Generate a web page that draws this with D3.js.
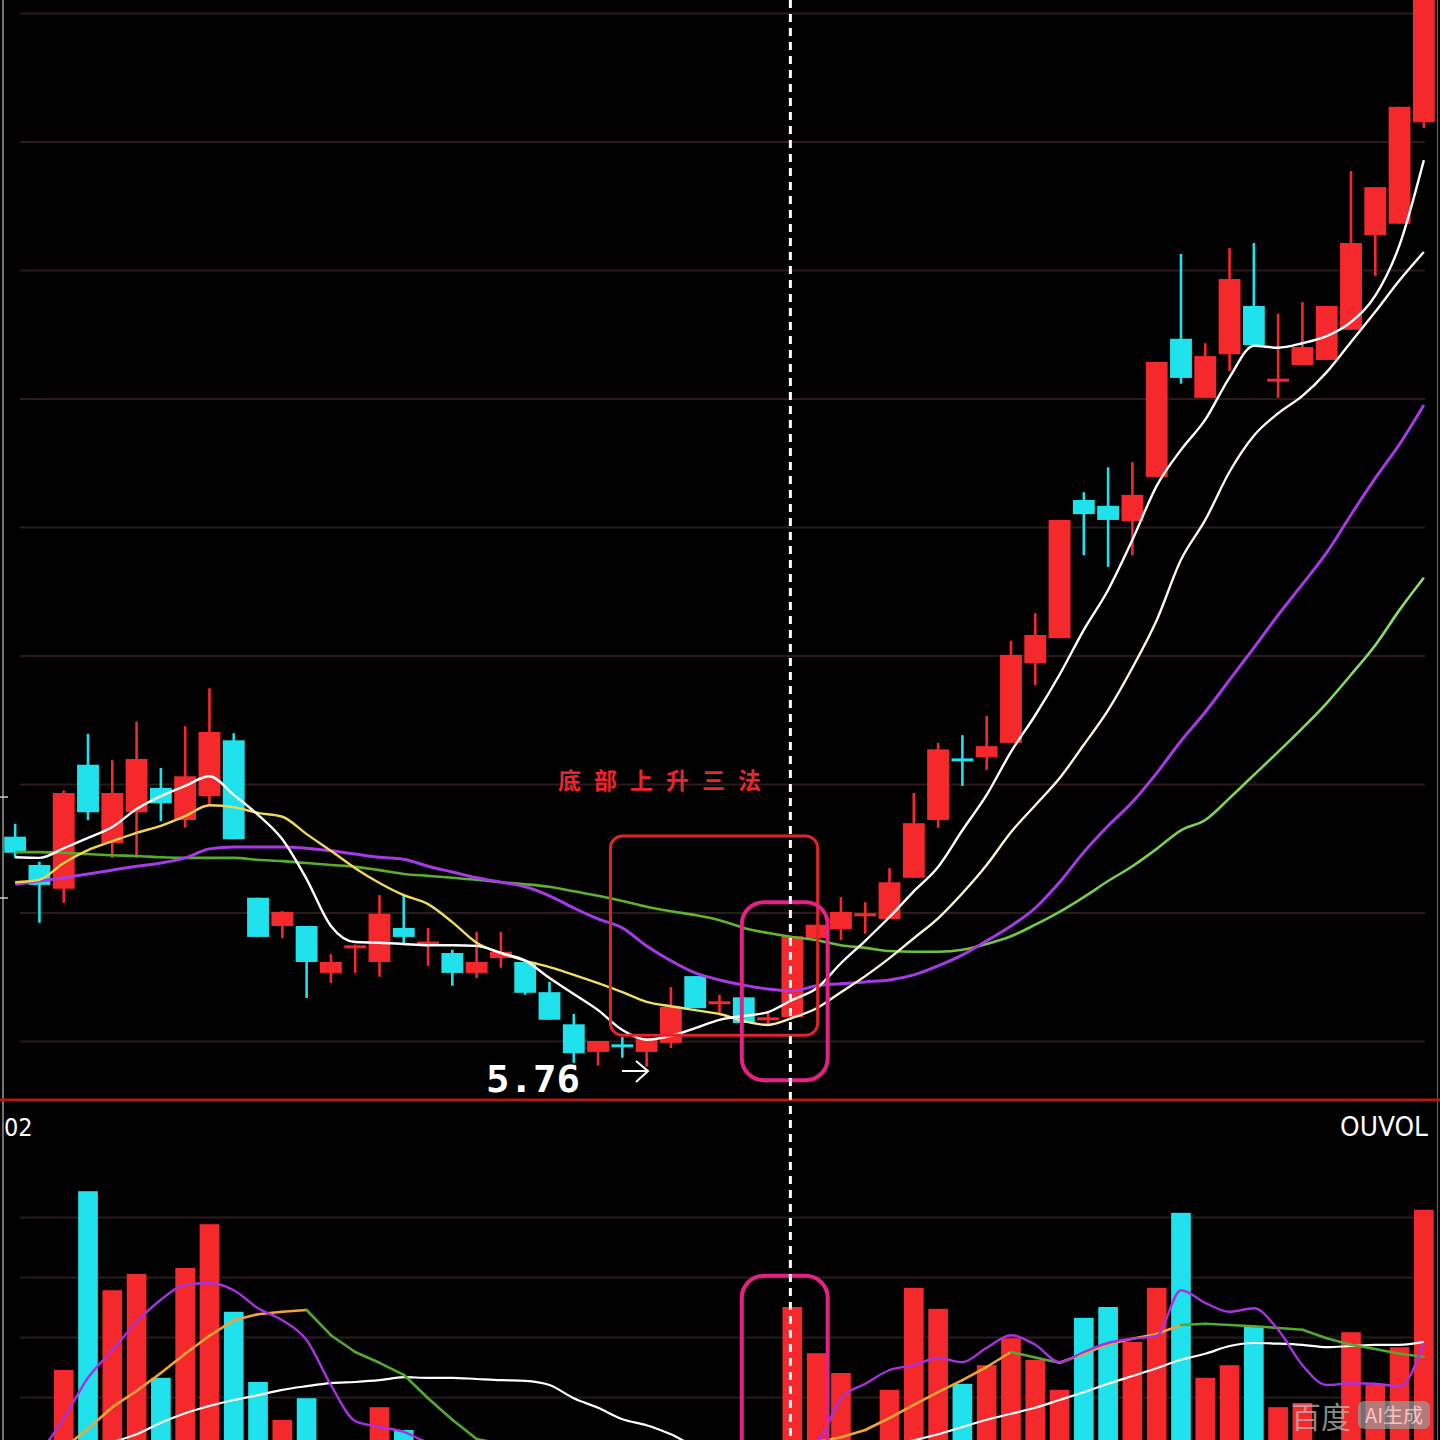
<!DOCTYPE html>
<html><head><meta charset="utf-8">
<script src="https://cdn.jsdelivr.net/npm/d3@7"></script>
<style>html,body{margin:0;padding:0;background:#000;}svg{display:block;}</style>
</head><body>
<svg id="c" width="1440" height="1440"></svg>
<script>
// ---------------- DATA ----------------
const days = d3.range(1, 60).map(d => "D" + d);
const open  = [6.118,6.074,6.037,6.230,6.108,6.156,6.194,6.144,6.181,6.268,6.023,5.979,5.979,5.906,5.945,5.923,5.976,5.951,5.937,5.906,5.929,5.923,5.876,5.826,5.783,5.794,5.783,5.797,5.901,5.858,5.868,5.833,5.837,5.960,5.974,5.995,5.990,6.054,6.144,6.239,6.242,6.264,6.388,6.427,6.642,6.633,6.609,6.678,6.893,6.801,6.869,6.944,6.827,6.852,6.860,6.907,7.054,7.072,7.230];
const close = [6.093,6.043,6.186,6.156,6.186,6.239,6.170,6.212,6.281,6.114,5.962,6.001,5.923,5.923,5.948,5.998,5.962,5.954,5.906,5.923,5.939,5.875,5.833,5.781,5.800,5.791,5.805,5.853,5.851,5.861,5.828,5.836,5.963,5.981,6.001,5.998,6.047,6.139,6.254,6.236,6.259,6.401,6.432,6.611,6.620,6.611,6.650,6.857,6.832,6.866,6.986,6.883,6.830,6.880,6.944,7.042,7.129,7.254,7.430];
const high  = [6.138,6.079,6.190,6.278,6.237,6.297,6.225,6.290,6.349,6.279,6.023,6.002,5.979,5.935,5.950,6.027,6.027,5.976,5.942,5.970,5.970,5.926,5.892,5.842,5.800,5.806,5.805,5.884,5.901,5.872,5.868,5.845,5.963,5.981,6.024,6.016,6.069,6.186,6.264,6.276,6.306,6.423,6.466,6.611,6.654,6.693,6.701,6.857,7.025,6.886,7.034,7.042,6.932,6.950,6.944,7.154,7.129,7.254,7.450];
const low   = [6.085,5.984,6.015,6.144,6.085,6.085,6.142,6.132,6.166,6.114,5.962,5.960,5.867,5.890,5.906,5.900,5.949,5.917,5.886,5.898,5.914,5.872,5.833,5.766,5.762,5.774,5.760,5.789,5.851,5.844,5.828,5.825,5.837,5.960,5.957,5.967,5.990,6.054,6.132,6.197,6.222,6.264,6.354,6.427,6.556,6.538,6.556,6.678,6.823,6.801,6.843,6.883,6.801,6.852,6.860,6.907,6.991,7.072,7.221];

const ma5  = [6.086,6.085,6.100,6.116,6.133,6.161,6.181,6.197,6.212,6.183,6.152,6.114,6.052,5.979,5.954,5.953,5.951,5.949,5.949,5.948,5.937,5.925,5.898,5.873,5.848,5.817,5.802,5.808,5.820,5.833,5.839,5.845,5.864,5.882,5.921,5.956,5.993,6.033,6.071,6.128,6.183,6.250,6.307,6.370,6.440,6.502,6.580,6.664,6.720,6.767,6.833,6.882,6.879,6.886,6.897,6.919,6.960,7.039,7.171];
const ma10 = [6.047,6.051,6.077,6.097,6.111,6.124,6.135,6.150,6.167,6.164,6.155,6.149,6.122,6.096,6.069,6.046,6.027,6.013,5.985,5.953,5.937,5.925,5.915,5.903,5.890,5.876,5.861,5.854,5.848,5.842,5.831,5.825,5.836,5.851,5.876,5.901,5.929,5.960,5.991,6.030,6.074,6.125,6.167,6.209,6.261,6.315,6.381,6.455,6.549,6.611,6.686,6.742,6.777,6.804,6.841,6.888,6.935,6.984,7.028];
const ma30 = [6.044,6.049,6.054,6.060,6.066,6.072,6.077,6.085,6.099,6.102,6.102,6.102,6.100,6.096,6.091,6.086,6.083,6.072,6.063,6.054,6.047,6.040,6.026,6.007,5.990,5.976,5.948,5.925,5.906,5.895,5.887,5.881,5.878,5.886,5.889,5.892,5.895,5.903,5.917,5.934,5.956,5.979,6.007,6.047,6.094,6.135,6.172,6.217,6.267,6.312,6.362,6.412,6.463,6.511,6.560,6.619,6.676,6.729,6.790];
const ma60 = [6.094,6.094,6.093,6.091,6.089,6.088,6.086,6.085,6.085,6.085,6.082,6.080,6.077,6.074,6.071,6.066,6.060,6.057,6.054,6.051,6.047,6.044,6.040,6.033,6.026,6.018,6.009,6.002,5.996,5.988,5.976,5.968,5.962,5.957,5.949,5.945,5.940,5.939,5.939,5.942,5.951,5.963,5.981,6.001,6.024,6.049,6.072,6.099,6.128,6.144,6.178,6.214,6.250,6.287,6.326,6.370,6.416,6.471,6.521];

const volume  = [0.22,0.25,1.45,4.43,2.78,3.05,1.32,3.15,3.88,2.42,1.25,0.62,0.98,0.25,0.20,0.83,0.45,0.20,0.25,0.18,0.22,0.20,0.24,0.26,0.15,0.12,0.18,0.20,0.22,0.12,0.15,0.18,2.50,1.73,1.40,0.20,1.12,2.82,2.47,1.22,1.53,1.98,1.62,1.12,2.32,2.50,1.92,2.82,4.07,1.32,1.53,2.17,0.83,0.90,0.25,2.08,1.20,1.83,4.12];
const volMa5  = [0.10,0.15,0.65,1.32,1.78,2.25,2.62,2.87,2.90,2.78,2.48,2.28,1.95,1.20,0.60,0.50,0.42,0.25,0.22,0.20,0.20,0.21,0.22,0.22,0.21,0.19,0.19,0.18,0.17,0.17,0.17,0.17,0.25,0.28,0.98,1.22,1.45,1.53,1.65,1.58,1.82,2.03,1.87,1.58,1.75,1.90,1.97,2.02,2.78,2.57,2.42,2.48,2.12,1.53,1.20,1.23,1.22,1.18,1.90];
const volMa10 = [0.05,0.10,0.15,0.47,0.83,1.10,1.40,1.72,2.02,2.28,2.38,2.42,2.45,2.03,1.75,1.57,1.37,0.98,0.62,0.30,0.22,0.20,0.20,0.20,0.20,0.20,0.20,0.20,0.19,0.18,0.18,0.18,0.20,0.25,0.33,0.45,0.65,0.87,1.08,1.28,1.50,1.75,1.66,1.57,1.72,1.88,1.97,2.05,2.20,2.22,2.20,2.18,2.15,2.12,1.98,1.87,1.80,1.72,1.67];
const volMa20 = [0.02,0.05,0.10,0.15,0.25,0.38,0.57,0.73,0.85,0.95,1.03,1.12,1.18,1.23,1.25,1.28,1.33,1.32,1.32,1.30,1.28,1.27,1.20,0.98,0.82,0.63,0.53,0.38,0.20,0.18,0.18,0.18,0.20,0.20,0.20,0.20,0.20,0.28,0.38,0.50,0.62,0.72,0.82,0.95,1.08,1.22,1.35,1.48,1.62,1.72,1.85,1.90,1.89,1.87,1.83,1.85,1.87,1.87,1.92];

const priceTicks = [5.8,6.0,6.2,6.4,6.6,6.8,7.0,7.2,7.4];
const volTicks = [1,2,3,4];
const lowLabel = "5.76";
const patternTitle = "底部上升三法";
const panelLeftLabel = "02";
const panelRightLabel = "OUVOL";
const patternStart = 25, patternEnd = 33, signalDay = 32;
const boxTop = 6.119, boxBottom = 5.809, hiTop = 6.016, hiBottom = 5.739, volBoxTop = 3.02;

// ---------------- CHART ----------------
const svg = d3.select("#c");
svg.append("rect").attr("width",1440).attr("height",1440).attr("fill","#000");
const defs = svg.append("defs");
defs.append("clipPath").attr("id","clipP").append("rect").attr("x",0).attr("y",0).attr("width",1440).attr("height",1099);
defs.append("clipPath").attr("id","clipV").append("rect").attr("x",0).attr("y",1103).attr("width",1440).attr("height",337);

const x = d3.scaleBand().domain(days).range([3,1436]).paddingInner(0.1).paddingOuter(0.05);
const bw = x.bandwidth();
const cx = i => x(days[i]) + bw/2;
const y = d3.scaleLinear().domain([5.8,7.4]).range([1041,13]);
const yv = d3.scaleLinear().domain([0,4]).range([1457,1217]);
const UP = "#f5282c", DOWN = "#1fe2ec";

// gradients
const g1 = defs.append("linearGradient").attr("id","ma10grad").attr("gradientUnits","userSpaceOnUse").attr("x1",0).attr("x2",1440).attr("y1",0).attr("y2",0);
[[0,"#f1d24a"],[0.5,"#f0df6a"],[0.55,"#fbf4cc"],[1,"#fffaf0"]].forEach(s=>g1.append("stop").attr("offset",s[0]).attr("stop-color",s[1]));
const g2 = defs.append("linearGradient").attr("id","ma60grad").attr("gradientUnits","userSpaceOnUse").attr("x1",0).attr("x2",1440).attr("y1",0).attr("y2",0);
[[0,"#56a82a"],[0.5,"#5fb42e"],[1,"#8ee066"]].forEach(s=>g2.append("stop").attr("offset",s[0]).attr("stop-color",s[1]));

// grid (price)
const gridP = svg.append("g").attr("transform","translate(20,0)")
  .call(d3.axisRight(y).tickValues(priceTicks).tickSize(1405).tickFormat(""));
gridP.select(".domain").remove();
gridP.selectAll("line").attr("stroke","#2c1b1b").attr("stroke-width",2);
// grid (volume)
const gridV = svg.append("g").attr("transform","translate(20,0)")
  .call(d3.axisRight(yv).tickValues(volTicks).tickSize(1405).tickFormat(""));
gridV.select(".domain").remove();
gridV.selectAll("line").attr("stroke","#2a1c1c").attr("stroke-width",2);

// borders
svg.append("line").attr("x1",3).attr("x2",3).attr("y1",0).attr("y2",1440).attr("stroke","#9a9a9a").attr("stroke-width",1.5);
[797,898].forEach(t=>svg.append("line").attr("x1",0).attr("x2",8).attr("y1",t).attr("y2",t).attr("stroke","#cccccc").attr("stroke-width",1.5));
svg.append("line").attr("x1",1437.5).attr("x2",1437.5).attr("y1",0).attr("y2",1440).attr("stroke","#8a8a8a").attr("stroke-width",1.2).attr("opacity",0.7);

const data = days.map((d,i)=>({d,i,o:open[i],c:close[i],h:high[i],l:low[i],v:volume[i]}));
const col = d => d.c >= d.o ? UP : DOWN;

// candles
const gP = svg.append("g").attr("clip-path","url(#clipP)");
gP.selectAll("line.wick").data(data).join("line").attr("class","wick")
  .attr("x1",d=>cx(d.i)).attr("x2",d=>cx(d.i))
  .attr("y1",d=>y(d.h)).attr("y2",d=>y(d.l))
  .attr("stroke",col).attr("stroke-width",2.6);
gP.selectAll("rect.body").data(data).join("rect").attr("class","body")
  .attr("x",d=>x(d.d)).attr("width",bw)
  .attr("y",d=>{const t=y(Math.max(d.o,d.c)), b=y(Math.min(d.o,d.c)); return (b-t)<3 ? (t+b)/2-1.5 : t;})
  .attr("height",d=>Math.max(3, y(Math.min(d.o,d.c))-y(Math.max(d.o,d.c))))
  .attr("fill",col);

// MA lines (price)
const line = d3.line().x((d,i)=>cx(i)).y(d=>y(d)).curve(d3.curveMonotoneX);
gP.append("path").datum(ma60).attr("d",line).attr("fill","none").attr("stroke","url(#ma60grad)").attr("stroke-width",2.6);
gP.append("path").datum(ma30).attr("d",line).attr("fill","none").attr("stroke","#a63ae6").attr("stroke-width",3);
gP.append("path").datum(ma10).attr("d",line).attr("fill","none").attr("stroke","url(#ma10grad)").attr("stroke-width",2.4);
gP.append("path").datum(ma5).attr("d",line).attr("fill","none").attr("stroke","#ffffff").attr("stroke-width",2.4);

// separator
svg.append("line").attr("x1",0).attr("x2",1440).attr("y1",1100).attr("y2",1100).attr("stroke","#b8161a").attr("stroke-width",3);

// volume
const gV = svg.append("g").attr("clip-path","url(#clipV)");
gV.selectAll("rect.vol").data(data).join("rect").attr("class","vol")
  .attr("x",d=>x(d.d)+bw*0.05).attr("width",bw*0.9)
  .attr("y",d=>yv(d.v)).attr("height",d=>yv(0)-yv(d.v))
  .attr("fill",col);
const vline = d3.line().x((d,i)=>cx(i)).y(d=>yv(d)).curve(d3.curveMonotoneX);
gV.append("path").datum(volMa20).attr("d",vline).attr("fill","none").attr("stroke","#ffffff").attr("stroke-width",2.2);
// MA10: orange while rising, green otherwise
const segs = d3.range(volMa10.length-1).map(i=>({i, a:volMa10[i], b:volMa10[i+1]}));
gV.selectAll("line.vm10").data(segs).join("line").attr("class","vm10")
  .attr("x1",s=>cx(s.i)).attr("x2",s=>cx(s.i+1)).attr("y1",s=>yv(s.a)).attr("y2",s=>yv(s.b))
  .attr("stroke",s=> s.b > s.a + 0.02 ? "#f0a436" : "#54a82e").attr("stroke-width",2.6).attr("stroke-linecap","round");
gV.append("path").datum(volMa5).attr("d",vline).attr("fill","none").attr("stroke","#a733e0").attr("stroke-width",2.4);

// annotations
const ann = svg.append("g");
const boxL = x(days[patternStart]) - 1, boxR = cx(patternEnd) + 1;
ann.append("rect").attr("x",boxL).attr("y",y(boxTop)).attr("width",boxR-boxL).attr("height",y(boxBottom)-y(boxTop))
  .attr("rx",12).attr("fill","none").attr("stroke","#e0242c").attr("stroke-width",3);
const hiL = cx(signalDay-2) - 2, hiR = cx(patternEnd) + 11;
ann.append("rect").attr("x",hiL).attr("y",y(hiTop)).attr("width",hiR-hiL).attr("height",y(hiBottom)-y(hiTop))
  .attr("rx",22).attr("fill","none").attr("stroke","#e52186").attr("stroke-width",4);
ann.append("rect").attr("x",hiL).attr("y",yv(volBoxTop)).attr("width",hiR-hiL).attr("height",300)
  .attr("rx",22).attr("fill","none").attr("stroke","#e52186").attr("stroke-width",4);

ann.append("text").attr("x",558).attr("y",789).text(patternTitle)
  .attr("fill","#e8262b").attr("font-family","'Noto Sans CJK SC'").attr("font-size",23).attr("font-weight","bold").attr("letter-spacing",13);

ann.append("text").attr("x",486).attr("y",1092).text(lowLabel)
  .attr("fill","#ffffff").attr("font-family","'DejaVu Sans Mono'").attr("font-size",38).attr("font-weight","bold")
  .attr("textLength",94).attr("lengthAdjust","spacingAndGlyphs");
ann.append("path").attr("d","M622,1071 L648,1071 M636,1061 L648,1071 L636,1082")
  .attr("fill","none").attr("stroke","#ffffff").attr("stroke-width",2);

svg.append("text").attr("x",4).attr("y",1136).text(panelLeftLabel)
  .attr("fill","#ffffff").attr("font-family","'DejaVu Sans Condensed','DejaVu Sans'").attr("font-size",25);
svg.append("text").attr("x",1340).attr("y",1136).text(panelRightLabel)
  .attr("fill","#ffffff").attr("font-family","'DejaVu Sans Condensed','DejaVu Sans'").attr("font-size",26).attr("font-weight",300)
  .attr("textLength",88).attr("lengthAdjust","spacingAndGlyphs");

// dashed signal line
svg.append("line").attr("x1",cx(signalDay)-2).attr("x2",cx(signalDay)-2).attr("y1",0).attr("y2",1440)
  .attr("stroke","#ffffff").attr("stroke-width",3).attr("stroke-dasharray","8,6");

// watermark
const wm = svg.append("g").attr("opacity",0.72);
wm.append("text").attr("x",1291).attr("y",1428).text("百度").attr("fill","#bdbdbd")
  .attr("font-family","'Noto Sans CJK SC'").attr("font-size",30);
wm.append("rect").attr("x",1358).attr("y",1401).attr("width",72).attr("height",28).attr("rx",6).attr("fill","#9a9a9a");
wm.append("text").attr("x",1394).attr("y",1423).attr("text-anchor","middle").text("AI生成").attr("fill","#ffffff")
  .attr("font-family","'Noto Sans CJK SC'").attr("font-size",20);
</script>
</body></html>
